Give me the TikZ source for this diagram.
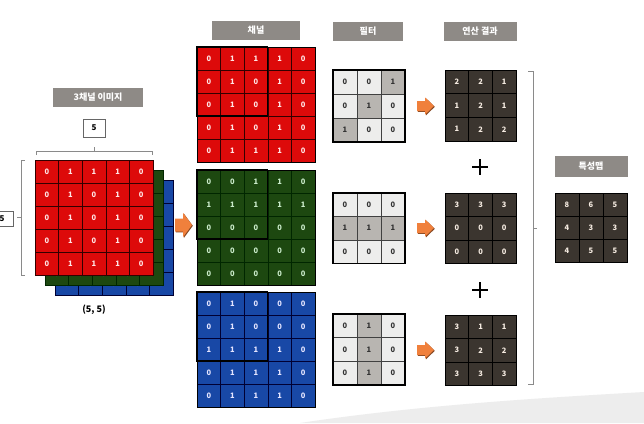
\documentclass[tikz,border=0pt]{standalone}
\usepackage{fontspec}
\setmainfont{Noto Sans CJK KR}
\definecolor{cred}{HTML}{DD0A0A}
\definecolor{cgreen}{HTML}{1D4810}
\definecolor{cblue}{HTML}{1848A6}
\definecolor{tgray}{HTML}{8E8A86}
\definecolor{flight}{HTML}{EDEDEC}
\definecolor{fdark}{HTML}{B8B5B1}
\definecolor{rdark}{HTML}{3B352F}
\definecolor{orng}{HTML}{F0803C}
\definecolor{bgray}{HTML}{8A8A8A}
\newcommand{\mgrid}[7]{%
  \foreach \row [count=\i] in {#7} {
    \foreach \v [count=\j] in \row {
      \ifnum\v=1 \def\cellc{fdark}\else\def\cellc{flight}\fi
      \node[#6, minimum width=#4pt, minimum height=#5pt, anchor=north west,
            inner sep=0pt, outer sep=0pt] (#1-\i-\j)
            at ({#2+(\j-1)*#4},{#3+(\i-1)*#5}) {\v};
    }
  }%
}
% orange block arrow: left x, centre y, length, head height, shaft height
\newcommand{\oarr}[5]{%
  \fill[orng!55!black] ({#1+0.8},{#2-#5/2+0.8}) -- ({#1+#3*0.48+0.8},{#2-#5/2+0.8}) -- ({#1+#3*0.48+0.8},{#2-#4/2+0.8})
     -- ({#1+#3+0.8},{#2+0.8}) -- ({#1+#3*0.48+0.8},{#2+#4/2+0.8}) -- ({#1+#3*0.48+0.8},{#2+#5/2+0.8})
     -- ({#1+0.8},{#2+#5/2+0.8}) -- cycle;
  \fill[orng] (#1,{#2-#5/2}) -- ({#1+#3*0.48},{#2-#5/2}) -- ({#1+#3*0.48},{#2-#4/2})
     -- ({#1+#3},#2) -- ({#1+#3*0.48},{#2+#4/2}) -- ({#1+#3*0.48},{#2+#5/2})
     -- (#1,{#2+#5/2}) -- cycle;
}
\tikzset{
  num/.style={font=\bfseries\fontsize{7.5}{8}\selectfont},
  redcell/.style={num, fill=cred, draw=black!80!red, line width=0.6pt, text=red!10!white},
  greencell/.style={num, fill=cgreen, draw=black!85!green, line width=0.6pt, text=green!15!white!85!gray},
  bluecell/.style={num, fill=cblue, draw=black!80!blue, line width=0.6pt, text=blue!10!white},
  filtcell/.style={num, fill=\cellc, draw=black!75, line width=0.6pt, text=black!80},
  rescell/.style={num, fill=rdark, draw=black, line width=0.6pt, text=white!85!brown},
  tbox/.style={fill=tgray, text=white, font=\bfseries\fontsize{9}{10}\selectfont, inner sep=0pt, minimum height=19pt},
  wbox/.style={draw=black!60, fill=white, font=\bfseries\fontsize{8}{9}\selectfont, inner sep=0pt},
  brk/.style={draw=bgray, line width=0.8pt},
}
\begin{document}
\begin{tikzpicture}[x=1pt,y=-1pt]
\clip (0,0) rectangle (644,423);
\fill[white] (0,0) rectangle (644,423);
% faint background swoosh
\fill[black!7] (300,423) .. controls (420,405) and (540,398) .. (644,392) -- (644,423) -- cycle;

% ---------- left: 3-channel image ----------
\node[tbox, minimum width=90pt] (t0) at (98,97) {3채널 이미지};
\node[wbox, minimum width=22pt, minimum height=18pt] (w5a) at (94,128) {5};
\node[wbox, minimum width=22pt, minimum height=15pt] (w5b) at (2,219) {5};
\mgrid{sb}{55}{180}{23.6}{23}{bluecell}{{0,0,0,0,0},{0,0,0,0,0},{0,0,0,0,0},{0,0,0,0,0},{0,0,0,0,0}}
\mgrid{sg}{45}{170}{23.6}{23}{greencell}{{0,0,0,0,0},{0,0,0,0,0},{0,0,0,0,0},{0,0,0,0,0},{0,0,0,0,0}}
\mgrid{sr}{35}{160}{23.6}{23}{redcell}{{0,1,1,1,0},{0,1,0,1,0},{0,1,0,1,0},{0,1,0,1,0},{0,1,1,1,0}}
\draw[brk] (36,155) -- (36,151) -- (152,151) -- (152,155);
\draw[brk] (94,151) -- (94,147);
\draw[brk] (25,160) -- (21,160) -- (21,275) -- (25,275);
\draw[brk] (21,217) -- (17,217);
\node[font=\bfseries\fontsize{9}{10}\selectfont] (dim) at (94,310) {(5, 5)};

\oarr{175}{225}{17}{24}{13}

% ---------- channels ----------
\node[tbox, minimum width=88pt] (t1) at (256,30) {채널};
\mgrid{cr}{197}{47}{23.6}{23}{redcell}{{0,1,1,1,0},{0,1,0,1,0},{0,1,0,1,0},{0,1,0,1,0},{0,1,1,1,0}}
\mgrid{cg}{197}{170}{23.6}{23}{greencell}{{0,0,1,1,0},{1,1,1,1,1},{0,0,0,0,0},{0,0,0,0,0},{0,0,0,0,0}}
\mgrid{cb}{197}{292}{23.6}{23}{bluecell}{{0,1,0,0,0},{0,1,0,0,0},{1,1,1,1,0},{0,1,1,1,0},{0,1,1,1,0}}
\foreach \g in {cr,cg,cb}{
  \draw[black, line width=0.8pt] (\g-1-1.north west) rectangle (\g-5-5.south east);
  \draw[black, line width=1.2pt] (\g-1-1.north west) rectangle (\g-3-3.south east);
}

% ---------- filters ----------
\node[tbox, minimum width=70pt] (t2) at (368,31) {필터};
\mgrid{f1}{333}{70}{24}{24}{filtcell}{{0,0,1},{0,1,0},{1,0,0}}
\mgrid{f2}{333}{193}{24}{23.5}{filtcell}{{0,0,0},{1,1,1},{0,0,0}}
\mgrid{f3}{333}{314}{24}{23.7}{filtcell}{{0,1,0},{0,1,0},{0,1,0}}
\foreach \g in {f1,f2,f3}{
  \draw[black, line width=1.6pt] (\g-1-1.north west) rectangle (\g-3-3.south east);
}

% ---------- results ----------
\node[tbox, minimum width=73pt] (t3) at (480,31) {연산 결과};
\oarr{417}{106}{17}{17}{10}
\oarr{417}{228}{17}{17}{10}
\oarr{417}{350}{17}{17}{10}
\mgrid{r1}{445}{70}{23.7}{23.7}{rescell}{{2,2,1},{1,2,1},{1,2,2}}
\mgrid{r2}{445}{193}{23.7}{23.5}{rescell}{{3,3,3},{0,0,0},{0,0,0}}
\mgrid{r3}{445}{315}{23.7}{23.5}{rescell}{{3,1,1},{3,2,2},{3,3,3}}
\foreach \g in {r1,r2,r3}{
  \draw[black, line width=0.8pt] (\g-1-1.north west) rectangle (\g-3-3.south east);
}
\draw[line width=1.8pt] (472,167) -- (488,167) (480,159) -- (480,175);
\draw[line width=1.8pt] (472,290) -- (488,290) (480,282) -- (480,298);

% ---------- bracket ----------
\draw[brk] (528,71) -- (533,71) -- (533,384) -- (528,384);
\draw[brk] (533,228) -- (537,228);

% ---------- feature map ----------
\node[tbox, minimum width=73pt, minimum height=21pt] (t4) at (591,166.5) {특성맵};
\mgrid{fm}{555}{193}{24}{23}{rescell}{{8,6,5},{4,3,3},{4,5,5}}
\draw[black, line width=0.8pt] (fm-1-1.north west) rectangle (fm-3-3.south east);
\end{tikzpicture}
\end{document}
